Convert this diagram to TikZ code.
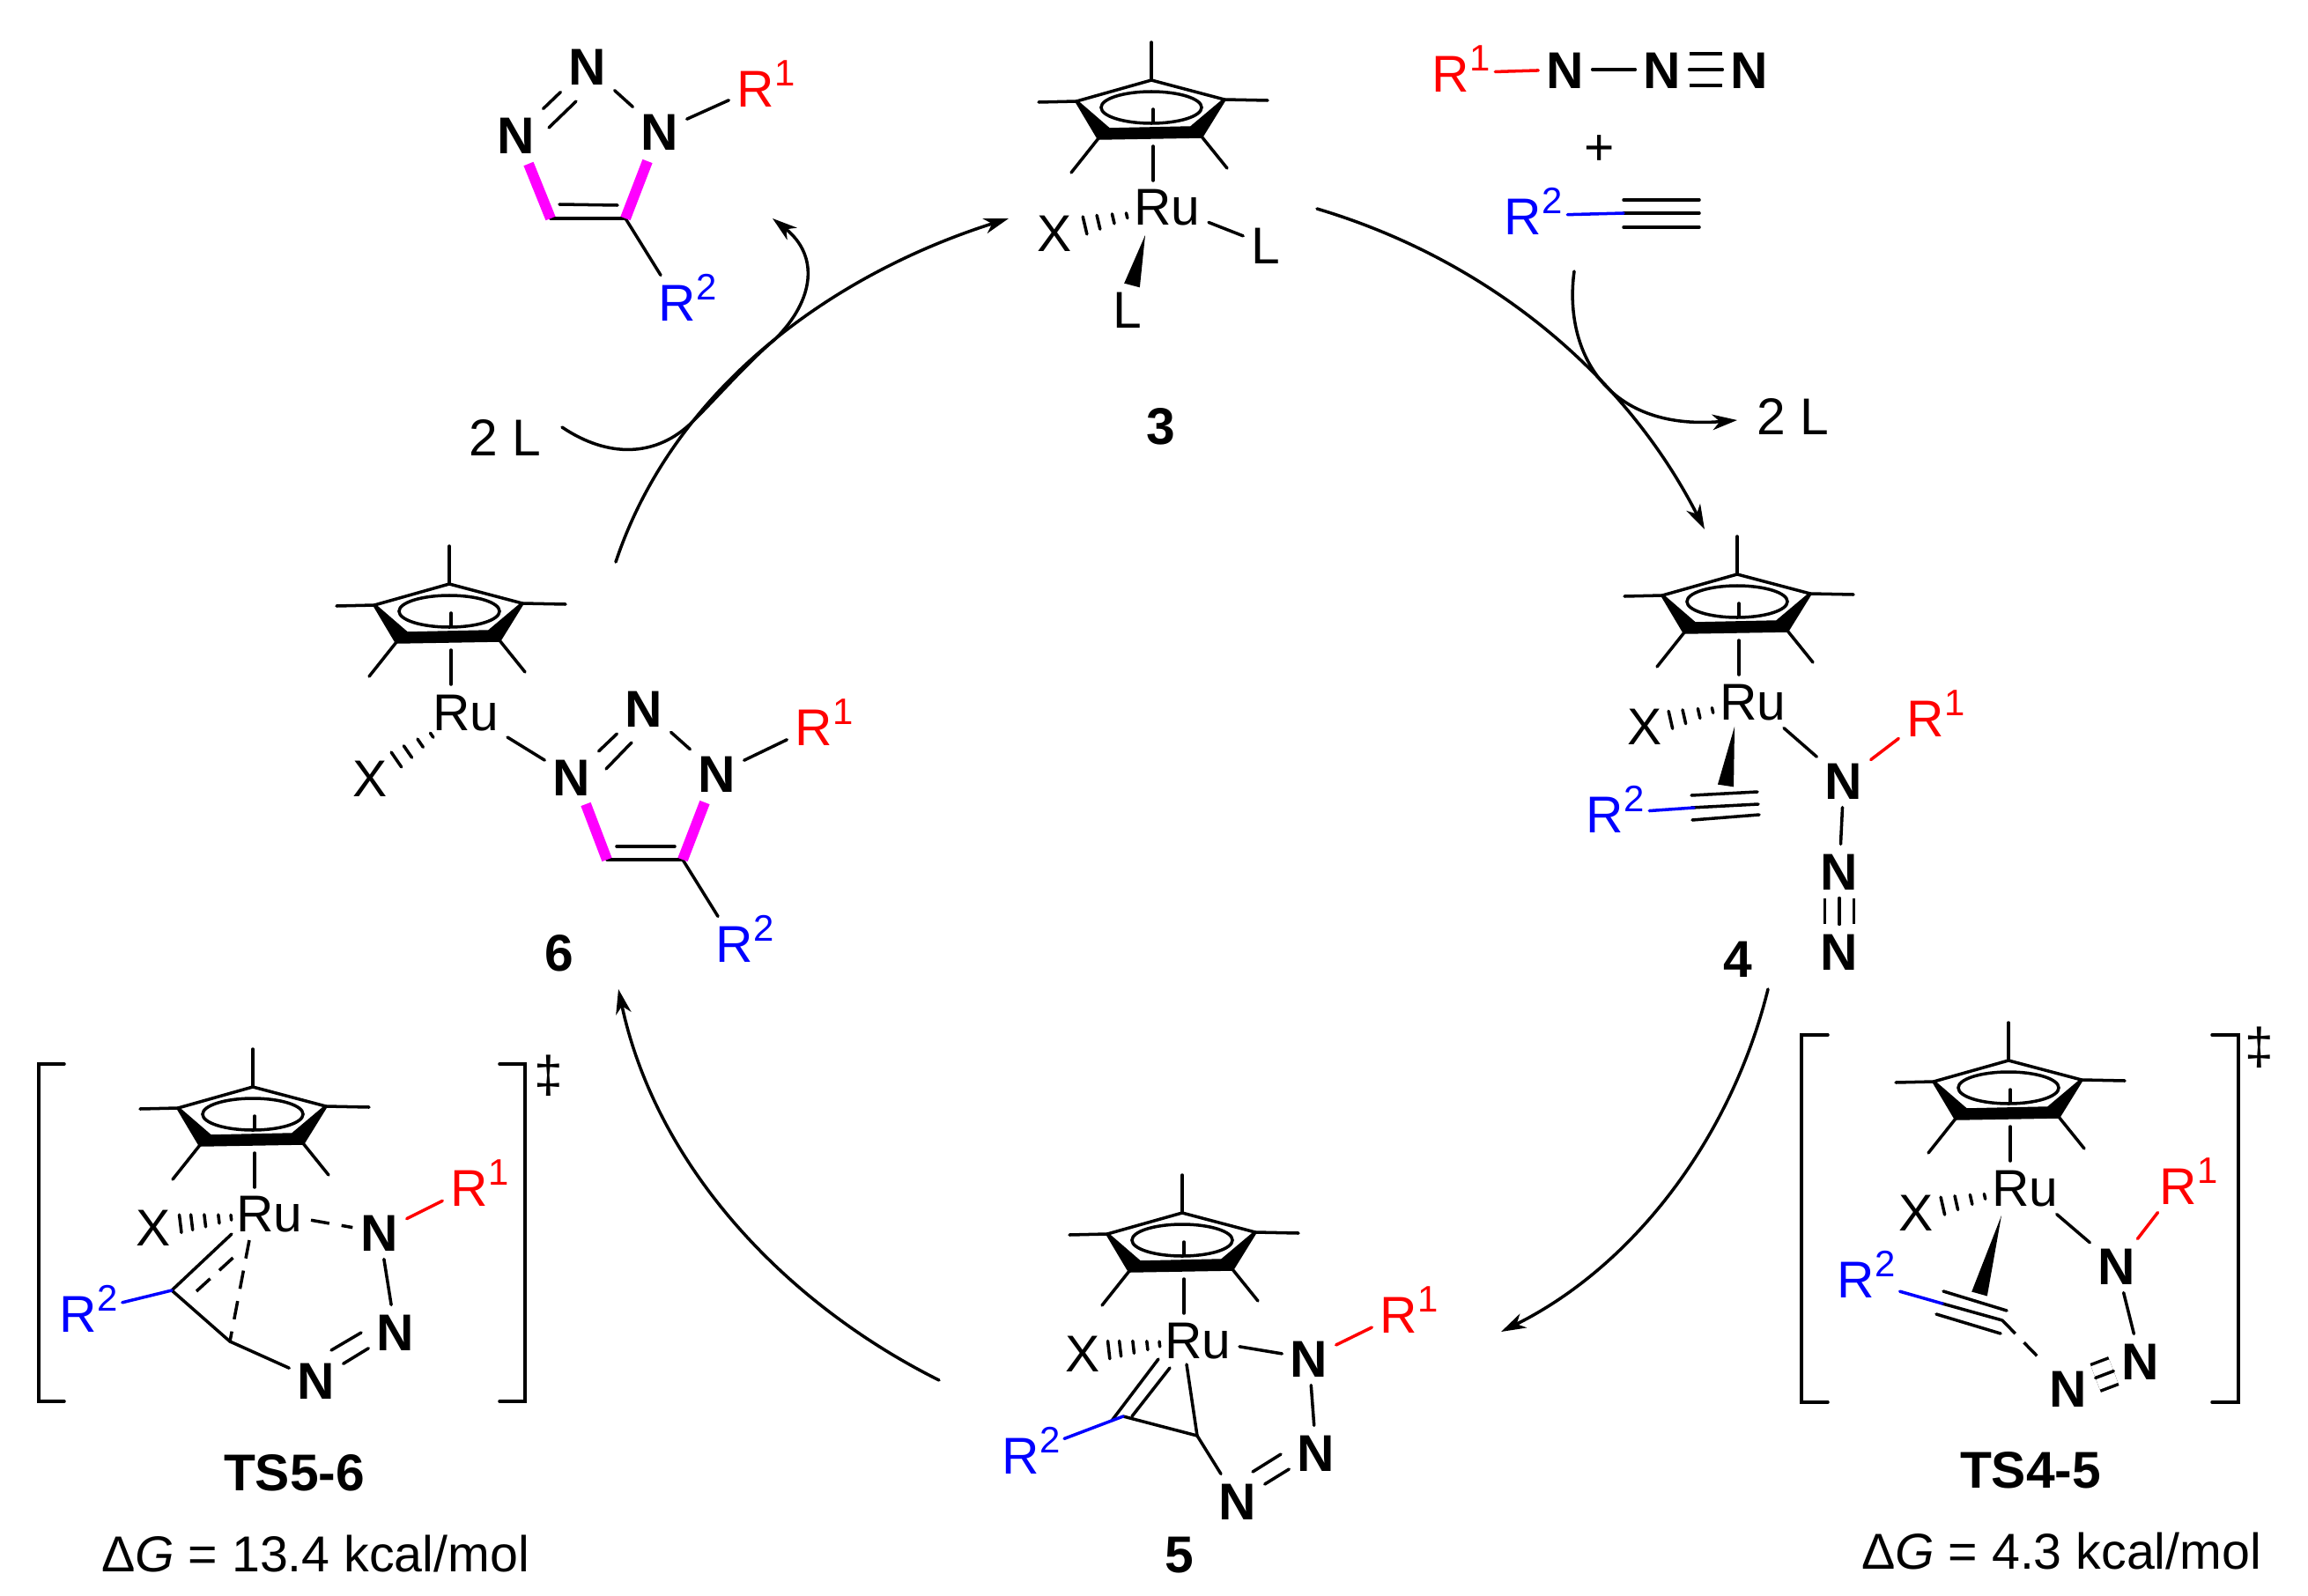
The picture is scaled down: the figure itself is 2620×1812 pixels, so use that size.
\documentclass[tikz,border=0pt]{standalone}
\usepackage{fontspec}
\setmainfont{Liberation Sans}
\usepackage{tikz}
\usetikzlibrary{arrows.meta, calc}
\definecolor{rone}{RGB}{255,0,0}
\definecolor{rtwo}{RGB}{0,0,255}
\definecolor{newbond}{RGB}{255,0,255}
\newcommand{\Rsup}[1]{R\rlap{\raisebox{6.7pt}{\fontsize{11.9}{12}\selectfont #1}}}
% distance from the metal / half length of every hash, in pt
\def\fourhash{13.4/.85,17.9/1.6,22.8/2.3,27.3/2.9}
\def\fivehash{12.5/.85,16.5/1.4,21/2,25.3/2.5,29/2.9}
\newcommand{\hashbond}[3][\fourhash]{%
  \foreach \d/\h in #1 {
    \coordinate (hb) at ($(#2)!\d pt!(#3)$);
    \draw ($(hb)!\h pt!90:(#3)$) -- ($(hb)!\h pt!-90:(#3)$);
  }}
\newcommand{\wedgebond}[2]{\fill (#1) -- ($(#2)!2.6pt!90:(#1)$) -- ($(#2)!2.6pt!-90:(#1)$) -- cycle;}
\tikzset{
  atom/.style={inner sep=2.2pt, text height=12pt, text depth=0pt, font=\fontsize{16.7}{20}\selectfont},
  natom/.style={atom, font=\fontsize{16.7}{20}\selectfont\bfseries},
  radone/.style={atom, text=rone},
  radtwo/.style={atom, text=rtwo},
  cmpd/.style={natom},
  barrier/.style={atom, font=\fontsize{16.3}{20}\selectfont},
  rsupgap/.style={shorten <=5.6pt},
  tribond/.style={double, double distance=#1, line cap=butt},
  tribond/.default=8.4pt,
  tsbond/.style={dash pattern=on 6pt off 4pt, line cap=butt},
  pinkbond/.style={newbond, line width=3.4pt, line cap=butt},
  arc/.style={-{Stealth[length=8pt, width=5pt, inset=2.4pt]}},
  cpstar/.pic={
    \draw (-85,24) -- (0,0) -- (83,22);
    \filldraw[line join=round] (-85,24) -- (-60,66) -- (57,64) -- (83,22) -- (45,54) -- (-48,56) -- cycle;
    \draw (0,31) ellipse [x radius=57, y radius=18];
    \draw (2,33) -- (2,48);
    \draw (0,0) -- (0,-43);
    \draw (-85,24) -- (-128,25);
    \draw (83,22) -- (132,23);
    \draw (-60,66) -- (-91,105);
    \draw (57,64) -- (86,100);
    \draw (2,75) -- (2,114);
  }
}

\begin{document}
\begin{tikzpicture}[x=0.01cm, y=-0.01cm, line width=1pt, line cap=round]
  \useasboundingbox (0,0) rectangle (2620,1812);

  % --- catalytic cycle ---
  \coordinate (s34) at (1495,237);  \coordinate (e34) at (1935,601);
  \coordinate (s45) at (2007,1123); \coordinate (e45) at (1704,1512);
  \coordinate (s56) at (1066,1567); \coordinate (e56) at (702,1123);
  \coordinate (s63) at (699,638);   \coordinate (e63) at (1145,248);
  \draw[arc] (s34) .. controls (1690,295) and (1845,425) .. (e34);
  \draw[arc] (s45) .. controls (1966,1289) and (1857,1436) .. (e45);
  \draw[arc] (s56) .. controls (886,1477) and (744,1320) .. (e56);
  \draw[arc] (s63) .. controls (765,440) and (946,311) .. (e63);

  % --- side arrows ---
  \node[atom] (ltwoin) at (573,496) {2 L};
  \node[atom] (ltwoout) at (2035,472) {2 L};
  \coordinate (sin) at (638,485);   \coordinate (ein) at (877,248);
  \coordinate (sout) at (1787,308); \coordinate (eout) at (1972,477);
  \draw[arc] (sin) .. controls (690,520) and (745,520) .. (787,478) .. controls (815,450) and (850,410) .. (880,385) .. controls (925,340) and (930,290) .. (ein);
  \draw[arc] (sout) .. controls (1775,395) and (1820,490) .. (eout);

  % --- azide + alkyne ---
  \node[radone] (razide) at (1647,83) {\Rsup{1}};
  \node[natom] (naz) at (1777,79) {N};
  \node[natom] (nbz) at (1887,79) {N};
  \node[natom] (ncz) at (1986,79) {N};
  \draw[rone, rsupgap] (razide) -- (naz);
  \draw (naz) -- (nbz);
  \draw[tribond=9.2pt] (nbz) -- (ncz);
  \draw (nbz) -- (ncz);
  \node[atom] (plus) at (1816,166) {+};
  \node[radtwo] (ralk) at (1729,245) {\Rsup{2}};
  \coordinate (calk) at (1843,242);
  \foreach \y in {227,242,258} {
    \draw (1843,\y) -- (1929,\y);
  }
  \draw[rtwo, rsupgap] (ralk) -- (calk);

  % --- triazole product ---
  \node[natom] (ntop) at (667,75) {N};
  \node[natom] (nlft) at (586,153) {N};
  \node[natom] (nrgt) at (749,149) {N};
  \node[radone] (rprod) at (858,100) {\Rsup{1}};
  \node[radtwo] (sprod) at (769,343) {\Rsup{2}};
  \coordinate (cl) at (625,248);
  \coordinate (cr) at (710,248);
  \draw (nlft) -- (ntop);
  \draw (623,145) -- (654,115);
  \draw (ntop) -- (nrgt);
  \draw (nrgt) -- (rprod);
  \draw (cl) -- (cr);
  \draw (635,232) -- (701,233);
  \draw (cr) -- (sprod);
  \draw[pinkbond] (600,186) -- (cl);
  \draw[pinkbond] (735,183) -- (cr);

  % --- 3 ---
  \pic at (1307,91) {cpstar};
  \node[atom] (ru3) at (1325,234) {Ru};
  \node[atom] (x3) at (1197,264) {X};
  \node[atom] (lb3) at (1437,278) {L};
  \node[atom] (ld3) at (1280,351) {L};
  \coordinate (t3) at (1300,267);
  \coordinate (b3) at (1285,324);
  \hashbond{ru3}{x3}
  \wedgebond{t3}{b3}
  \draw (ru3) -- (lb3);
  \node[cmpd] (lab3) at (1318,483) {3};

  % --- 4 ---
  \pic at (1972,652) {cpstar};
  \node[atom] (ru4) at (1990,796) {Ru};
  \node[atom] (x4) at (1867,824) {X};
  \node[natom] (na4) at (2093,886) {N};
  \node[natom] (nb4) at (2088,989) {N};
  \node[natom] (nc4) at (2088,1080) {N};
  \node[radone] (r4) at (2186,815) {\Rsup{1}};
  \node[radtwo] (s4) at (1822,924) {\Rsup{2}};
  \coordinate (t4) at (1969,825);
  \coordinate (b4) at (1959,892);
  \coordinate (c4) at (1923,917);
  \hashbond{ru4}{x4}
  \wedgebond{t4}{b4}
  \draw (1920,903) -- (1995,899);
  \draw (1920,917) -- (1996,913);
  \draw (1921,931) -- (1997,925);
  \draw[rtwo, rsupgap] (s4) -- (c4);
  \draw (ru4) -- (na4);
  \draw (na4) -- (nb4);
  \draw[tribond] (nb4) -- (nc4);
  \draw (nb4) -- (nc4);
  \draw[rone] (na4) -- (r4);
  \node[cmpd] (lab4) at (1973,1088) {4};

  % --- 5 ---
  \pic at (1342,1377) {cpstar};
  \node[atom] (ru5) at (1360,1521) {Ru};
  \node[atom] (x5) at (1229,1536) {X};
  \node[natom] (na5) at (1486,1542) {N};
  \node[natom] (nb5) at (1494,1649) {N};
  \node[natom] (nc5) at (1405,1704) {N};
  \node[radone] (r5) at (1588,1492) {\Rsup{1}};
  \node[radtwo] (s5) at (1159,1652) {\Rsup{2}};
  \coordinate (ca5) at (1275,1608);
  \coordinate (cb5) at (1359,1630);
  \hashbond[\fivehash]{ru5}{x5}
  \draw (ru5) -- (na5);
  \draw[rone] (na5) -- (r5);
  \draw (na5) -- (nb5);
  \draw (nb5) -- (nc5);
  \draw (1422,1671) -- (1454,1651);
  \draw (nc5) -- (cb5);
  \draw (ca5) -- (cb5);
  \draw (1347,1549) -- (cb5);
  \draw (1315,1543) -- (1262,1613);
  \draw (1328,1553) -- (1285,1608);
  \draw[rtwo, rsupgap] (s5) -- (ca5);
  \node[cmpd] (lab5) at (1339,1764) {5};

  % --- 6 ---
  \pic at (510,663) {cpstar};
  \node[atom] (ru6) at (529,808) {Ru};
  \node[atom] (x6) at (420,883) {X};
  \node[natom] (na6) at (649,882) {N};
  \node[natom] (nb6) at (731,804) {N};
  \node[natom] (nc6) at (814,878) {N};
  \node[radone] (r6) at (924,825) {\Rsup{1}};
  \node[radtwo] (s6) at (834,1071) {\Rsup{2}};
  \coordinate (cl6) at (689,976);
  \coordinate (cr6) at (775,976);
  \hashbond{ru6}{x6}
  \draw (ru6) -- (na6);
  \draw (na6) -- (nb6);
  \draw (688,873) -- (717,843);
  \draw (nb6) -- (nc6);
  \draw (nc6) -- (r6);
  \draw (cl6) -- (cr6);
  \draw (700,961) -- (766,961);
  \draw (cr6) -- (s6);
  \draw[pinkbond] (665,913) -- (cl6);
  \draw[pinkbond] (800,911) -- (cr6);
  \node[cmpd] (lab6) at (635,1081) {6};

  % --- TS4-5 ---
  \draw (2075,1175) -- (2045,1175) -- (2045,1592) -- (2075,1592);
  \draw (2511,1175) -- (2541,1175) -- (2541,1592) -- (2511,1592);
  \node[atom] (dag45) at (2565,1187) {‡};
  \pic at (2280,1204) {cpstar};
  \node[atom] (ru45) at (2299,1348) {Ru};
  \node[atom] (x45) at (2175,1376) {X};
  \node[natom] (na45) at (2403,1437) {N};
  \node[natom] (nb45) at (2430,1545) {N};
  \node[natom] (nc45) at (2348,1576) {N};
  \node[radone] (r45) at (2473,1346) {\Rsup{1}};
  \node[radtwo] (s45) at (2107,1452) {\Rsup{2}};
  \coordinate (t45) at (2272,1380);
  \coordinate (b45) at (2247,1469);
  \coordinate (ca45) at (2205,1480);
  \coordinate (cb45) at (2273,1499);
  \hashbond{ru45}{x45}
  \wedgebond{t45}{b45}
  \draw (ru45) -- (na45);
  \draw[rone] (na45) -- (r45);
  \draw (na45) -- (nb45);
  \draw[tribond=8pt] (nb45) -- (nc45);
  \draw (nb45) -- (nc45);
  \draw (2206,1466) -- (2278,1488);
  \draw (ca45) -- (cb45);
  \draw (2198,1492) -- (2271,1514);
  \draw[rtwo, rsupgap] (s45) -- (ca45);
  \draw[tsbond] (cb45) -- (nc45);
  \node[cmpd] (lab45) at (2305,1668) {TS4-5};
  \node[barrier] (dg45) at (2340,1760) {Δ\textit{G} = 4.3 kcal/mol};

  % --- TS5-6 ---
  \draw (73,1208) -- (44,1208) -- (44,1591) -- (73,1591);
  \draw (567,1208) -- (596,1208) -- (596,1591) -- (567,1591);
  \node[atom] (dag56) at (623,1219) {‡};
  \pic at (287,1234) {cpstar};
  \node[atom] (ru56) at (306,1377) {Ru};
  \node[atom] (x56) at (174,1393) {X};
  \node[natom] (na56) at (431,1399) {N};
  \node[natom] (nb56) at (449,1512) {N};
  \node[natom] (nc56) at (359,1567) {N};
  \node[radone] (r56) at (533,1348) {\Rsup{1}};
  \node[radtwo] (s56) at (89,1491) {\Rsup{2}};
  \coordinate (ca56) at (195,1465);
  \coordinate (cb56) at (261,1523);
  \hashbond[\fivehash]{ru56}{x56}
  \draw[tsbond] (ru56) -- (na56);
  \draw[rone] (na56) -- (r56);
  \draw (na56) -- (nb56);
  \draw (nb56) -- (nc56);
  \draw (376,1533) -- (410,1513);
  \draw (nc56) -- (cb56);
  \draw (ca56) -- (cb56);
  \draw (ca56) -- (263,1401);
  \draw[tsbond] (223,1466) -- (270,1423);
  \draw[tsbond] (283,1408) -- (cb56);
  \draw[rtwo, rsupgap] (s56) -- (ca56);
  \node[cmpd] (lab56) at (334,1671) {TS5-6};
  \node[barrier] (dg56) at (358,1763) {Δ\textit{G} = 13.4 kcal/mol};
\end{tikzpicture}
\end{document}
